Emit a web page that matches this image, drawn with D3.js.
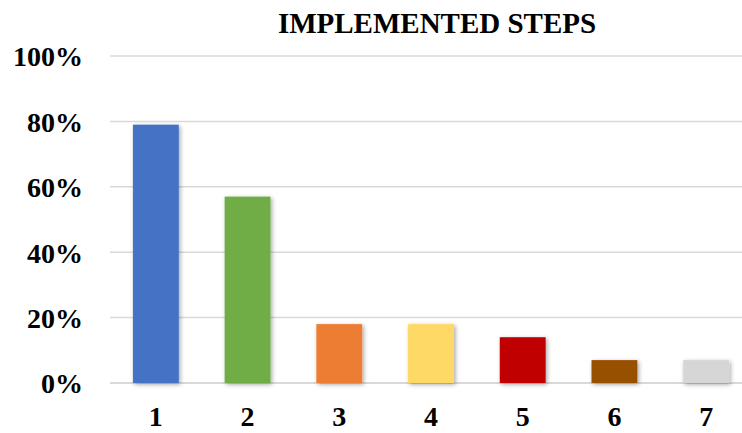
<!DOCTYPE html>
<html>
<head>
<meta charset="utf-8">
<script src="https://cdn.jsdelivr.net/npm/d3@7"></script>
<style>
  html, body { margin: 0; padding: 0; background: #fff; }
  svg { display: block; font-family: "Liberation Serif", "Times New Roman", serif; }
</style>
</head>
<body>
<svg id="chart" width="742" height="433"></svg>
<script>
const categories = ["1", "2", "3", "4", "5", "6", "7"];
const values = [0.79, 0.57, 0.18, 0.18, 0.14, 0.07, 0.07];
const colors = ["#4472C4", "#70AD47", "#ED7D31", "#FFD966", "#C00000", "#974F00", "#D6D6D6"];
const yTicks = [0, 0.2, 0.4, 0.6, 0.8, 1.0];
const title = "IMPLEMENTED STEPS";

const W = 742, H = 433;
const svg = d3.select("#chart");

const defs = svg.append("defs");
const f = defs.append("filter").attr("id", "shadow")
  .attr("x", "-20%").attr("y", "-20%").attr("width", "150%").attr("height", "150%");
f.append("feDropShadow").attr("dx", 1.5).attr("dy", 1.5).attr("stdDeviation", 2)
  .attr("flood-color", "#000").attr("flood-opacity", 0.35);

const x = d3.scaleBand().domain(categories).range([110, 752])
  .paddingInner(0.5).paddingOuter(0.25);
const y = d3.scaleLinear().domain([0, 1]).range([383, 56]);

// gridlines
svg.append("g").selectAll("line").data(yTicks).join("line")
  .attr("x1", 110).attr("x2", W)
  .attr("y1", d => y(d)).attr("y2", d => y(d))
  .attr("stroke", "#d9d9d9").attr("stroke-width", d => d === 0 ? 2 : 1.5);

// bars
svg.append("g").selectAll("rect").data(values).join("rect")
  .attr("x", (d, i) => x(categories[i]))
  .attr("width", x.bandwidth())
  .attr("y", d => y(d))
  .attr("height", d => y(0) - y(d))
  .attr("fill", (d, i) => colors[i])
  .attr("filter", "url(#shadow)");

// y axis labels
const yAxis = d3.axisLeft(y).tickValues(yTicks).tickFormat(d3.format(".0%")).tickSize(0).tickPadding(0);
const gy = svg.append("g").attr("transform", "translate(83,0)").call(yAxis);
gy.select(".domain").remove();
gy.selectAll("text")
  .attr("font-family", "'Liberation Serif', 'Times New Roman', serif")
  .attr("font-size", 28).attr("font-weight", "bold").attr("fill", "#000")
  .attr("dy", "0.35em");

// x axis labels
const xAxis = d3.axisBottom(x).tickSize(0).tickPadding(0);
const gx = svg.append("g").attr("transform", "translate(0,405)").call(xAxis);
gx.select(".domain").remove();
gx.selectAll("text")
  .attr("font-family", "'Liberation Serif', 'Times New Roman', serif")
  .attr("font-size", 28).attr("font-weight", "bold").attr("fill", "#000")
  .attr("dy", "0.75em");

// title
svg.append("text").attr("x", 437).attr("y", 33)
  .attr("text-anchor", "middle")
  .attr("font-size", 29).attr("font-weight", "bold").attr("fill", "#000")
  .text(title);
</script>
</body>
</html>
